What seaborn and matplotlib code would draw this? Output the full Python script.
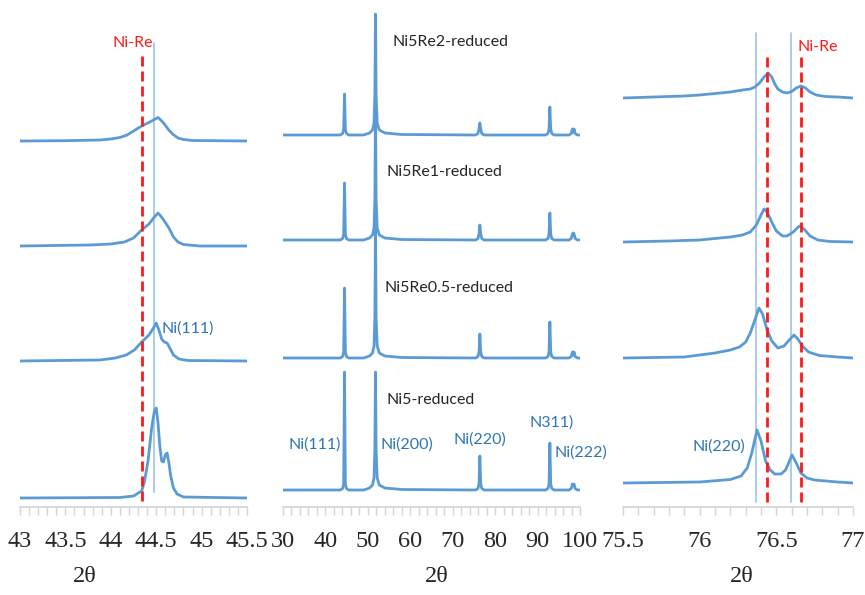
import numpy as np
import pandas as pd
import matplotlib
matplotlib.use("Agg")
import matplotlib.pyplot as plt
from matplotlib.ticker import MultipleLocator
import seaborn as sns

sns.set_theme(style="white")
plt.rcParams['font.family'] = ['Lato', 'DejaVu Sans']

# ---------------- data ----------------
samples = ["Ni5Re2-reduced", "Ni5Re1-reduced", "Ni5Re0.5-reduced", "Ni5-reduced"]

# Left panel: Ni(111) region (2theta, intensity above baseline, a.u.)
left_x = {
    "Ni5Re2-reduced":   [43.0, 43.5, 43.88, 44.0, 44.1, 44.18, 44.25, 44.34, 44.43, 44.49, 44.52,
                         44.55, 44.59, 44.63, 44.68, 44.74, 44.80, 44.9, 45.5],
    "Ni5Re1-reduced":   [43.0, 43.77, 44.0, 44.15, 44.25, 44.34, 44.42, 44.48, 44.52, 44.55, 44.59,
                         44.64, 44.69, 44.74, 44.80, 44.98, 45.5],
    "Ni5Re0.5-reduced": [43.0, 43.88, 44.05, 44.17, 44.26, 44.34, 44.42, 44.47, 44.50, 44.53, 44.56,
                         44.59, 44.62, 44.65, 44.69, 44.75, 44.85, 45.5],
    "Ni5-reduced":      [43.0, 44.1, 44.25, 44.34, 44.37, 44.41, 44.45, 44.48, 44.50, 44.52, 44.54,
                         44.56, 44.58, 44.60, 44.62, 44.64, 44.66, 44.69, 44.73, 44.80, 45.5],
}
left_y = {
    "Ni5Re2-reduced":   [0, 0.3, 1, 2, 3.5, 6, 10, 15, 19, 22, 23.5, 21, 17, 12, 7, 3, 1.5, 0.5, 0],
    "Ni5Re1-reduced":   [0, 1, 2, 4, 8, 16, 22, 29, 33, 30, 25, 18, 9, 4, 1.5, 0, 0],
    "Ni5Re0.5-reduced": [0, 1, 3, 6, 11, 19, 26, 33, 38, 31, 22, 19, 18, 13, 6, 2, 0.5, 0],
    "Ni5-reduced":      [0, 0.5, 2, 7, 16, 37, 70, 87, 90, 75, 52, 37, 36, 43, 45, 35, 22, 10, 4, 1, 0],
}

# Middle panel: full pattern, peak positions and heights
mid_peaks = [44.5, 51.8, 76.4, 92.9, 98.4]
mid_heights = {
    "Ni5Re2-reduced":   [41, 121, 12, 28, 3],
    "Ni5Re1-reduced":   [57, 130, 15, 27, 7],
    "Ni5Re0.5-reduced": [70, 135, 24, 36, 3],
    "Ni5-reduced":      [118, 118, 34, 47, 5],
}

# Right panel: Ni(220) region
right_x = {
    "Ni5Re2-reduced":   [75.5, 75.7, 75.9, 76.0, 76.1, 76.2, 76.28, 76.33, 76.36, 76.39, 76.42, 76.446,
                         76.47, 76.49, 76.51, 76.54, 76.57, 76.60, 76.63, 76.66, 76.69, 76.72, 76.76,
                         76.82, 76.9, 77.0],
    "Ni5Re1-reduced":   [75.5, 75.8, 76.0, 76.2, 76.28, 76.33, 76.37, 76.40, 76.42, 76.44, 76.47, 76.50,
                         76.54, 76.57, 76.61, 76.65, 76.68, 76.72, 76.77, 76.85, 77.0],
    "Ni5Re0.5-reduced": [75.5, 75.9, 76.0, 76.1, 76.2, 76.26, 76.30, 76.33, 76.36, 76.387, 76.41, 76.44,
                         76.47, 76.51, 76.55, 76.59, 76.615, 76.64, 76.67, 76.71, 76.78, 76.9, 77.0],
    "Ni5-reduced":      [75.5, 76.0, 76.2, 76.27, 76.31, 76.34, 76.374, 76.40, 76.43, 76.46, 76.49,
                         76.53, 76.56, 76.58, 76.602, 76.63, 76.66, 76.70, 76.75, 76.9, 77.0],
}
right_y = {
    "Ni5Re2-reduced":   [0, 1, 2, 3, 4.5, 6, 8, 9, 11, 15, 21, 25, 21, 14, 9, 6, 5, 6.5, 10, 12, 10,
                         6, 3, 1.5, 1, 0],
    "Ni5Re1-reduced":   [0, 1, 2, 5, 7, 10, 17, 27, 33, 30, 20, 11, 6, 6, 10, 16, 13, 6, 2, 0.5, 0],
    "Ni5Re0.5-reduced": [0, 1, 3, 5, 8, 11, 16, 25, 38, 50, 44, 28, 17, 10, 12, 19, 23, 19, 12, 6,
                         2.5, 1, 0],
    "Ni5-reduced":      [0, 1, 3.5, 7, 15, 30, 53, 42, 22, 13, 9, 9, 13, 20, 28, 20, 10, 5, 3, 1, 0],
}

left_ref_lines = [44.48]
left_nire_lines = [44.34]
right_ref_lines = [76.367, 76.596]
right_nire_lines = [76.44, 76.66]

# stacking offsets (a.u.)
left_off = [366, 261, 146, 9]
mid_off = [372, 267, 149, 17]
right_off = [409, 265, 149, 24]

# ---------------- styles ----------------
TRACE = "#5b9bd5"
REF = "#9dc3e6"
RED = "#ff1a1a"
LBL = "#2e75b6"
W, H = 865, 595
fig = plt.figure(figsize=(W / 100, H / 100), dpi=100)

def axrect(x0, x1):
    return [x0 / W, 88 / H, (x1 - x0) / W, 507 / H]

axL = fig.add_axes(axrect(20, 247))
axM = fig.add_axes(axrect(283, 580))
axR = fig.add_axes(axrect(623, 853))

def style(ax, lo, hi, major, minor):
    ax.set_xlim(lo, hi)
    ax.set_ylim(0, 507)
    for s in ["top", "right", "left"]:
        ax.spines[s].set_visible(False)
    ax.spines["bottom"].set_color("#d4d4d4")
    ax.spines["bottom"].set_linewidth(1.2)
    ax.set_yticks([])
    ax.xaxis.set_major_locator(MultipleLocator(major))
    ax.xaxis.set_minor_locator(MultipleLocator(minor))
    ax.tick_params(axis="x", which="both", direction="out", length=6, width=1,
                   color="#d4d4d4", bottom=True)
    ax.tick_params(axis="x", which="major", pad=11, labelsize=17.5)
    ax.set_xlabel("")
    ax.set_ylabel("")
    ax.patch.set_alpha(0)

DASH = (0, (3.6, 1.8))
TFS = 11.5

# Left panel
for s, off in zip(samples, left_off):
    df = pd.DataFrame({"x": left_x[s], "y": np.array(left_y[s]) + off})
    sns.lineplot(data=df, x="x", y="y", ax=axL, color=TRACE, lw=2.0, sort=False, estimator=None)
for xv in left_ref_lines:
    axL.plot([xv, xv], [15, 464], color=REF, lw=1.2, zorder=1)
for xv in left_nire_lines:
    axL.plot([xv, xv], [6, 452], color=RED, lw=2.0, ls=DASH, zorder=3)
style(axL, 43, 45.5, 0.5, 0.1)
axL.set_xticks([43, 43.5, 44, 44.5, 45, 45.5])
axL.set_xticklabels(["43", "43.5", "44", "44.5", "45", "45.5"], family="Liberation Serif")
axL.text(44.24, 464, "Ni-Re", color=RED, fontsize=TFS, ha="center", va="center")
axL.text(44.56, 178, "Ni(111)", color=LBL, fontsize=TFS, ha="left", va="center")

# Middle panel
for s, off in zip(samples, mid_off):
    h = mid_heights[s]
    xs, ys = [30.0], [0.0]
    for p, hv in zip(mid_peaks, h):
        if p == 51.8:
            xs += [49.0, 50.4, 51.1, 51.45, 51.65, p, 51.95, 52.2, 52.7, 54.0, 58.0]
            ys += [0, 2, 5, 12, 40, hv, 40, 12, 5, 2, 0.5]
        else:
            xs += [p - 1.0, p - 0.45, p - 0.2, p, p + 0.2, p + 0.45, p + 1.0]
            ys += [0, 1.5, 6, hv, 6, 1.5, 0]
    xs += [100.0]
    ys += [0]
    df = pd.DataFrame({"x": xs, "y": np.array(ys) + off})
    sns.lineplot(data=df, x="x", y="y", ax=axM, color=TRACE, lw=2.0, sort=False, estimator=None)
style(axM, 30, 100, 10, 2)
axM.set_xticks(list(range(30, 101, 10)))
axM.set_xticklabels([str(v) for v in range(30, 101, 10)], family="Liberation Serif")
name_pos = [(55.7, 465), (54.5, 335), (54.0, 219), (54.5, 107)]
for s, (tx, ty) in zip(samples, name_pos):
    axM.text(tx, ty, s, color="#262626", fontsize=TFS, ha="left", va="center")
for t, tx, ty in [("Ni(111)", 31.4, 62), ("Ni(200)", 52.9, 62), ("Ni(220)", 70.1, 67),
                  ("N311)", 88.2, 84), ("Ni(222)", 94.1, 54)]:
    axM.text(tx, ty, t, color=LBL, fontsize=TFS, ha="left", va="center", clip_on=False)

# Right panel
for s, off in zip(samples, right_off):
    df = pd.DataFrame({"x": right_x[s], "y": np.array(right_y[s]) + off})
    sns.lineplot(data=df, x="x", y="y", ax=axR, color=TRACE, lw=2.0, sort=False, estimator=None)
for xv in right_ref_lines:
    axR.plot([xv, xv], [5, 474], color=REF, lw=1.2, zorder=1)
for xv in right_nire_lines:
    axR.plot([xv, xv], [5, 452], color=RED, lw=2.0, ls=DASH, zorder=3)
style(axR, 75.5, 77, 0.5, 0.1)
axR.set_xticks([75.5, 76, 76.5, 77])
axR.set_xticklabels(["75.5", "76", "76.5", "77"], family="Liberation Serif")
axR.text(76.64, 460, "Ni-Re", color=RED, fontsize=TFS, ha="left", va="center")
axR.text(76.296, 60, "Ni(220)", color=LBL, fontsize=TFS, ha="right", va="center")

for ax, fx in [(axL, 0.286), (axM, 0.518), (axR, 0.517)]:
    ax.text(fx, -0.138, "2θ", transform=ax.transAxes, fontsize=17.5,
            family="Liberation Serif", ha="center", va="center")

fig.savefig("out.png", dpi=100)
